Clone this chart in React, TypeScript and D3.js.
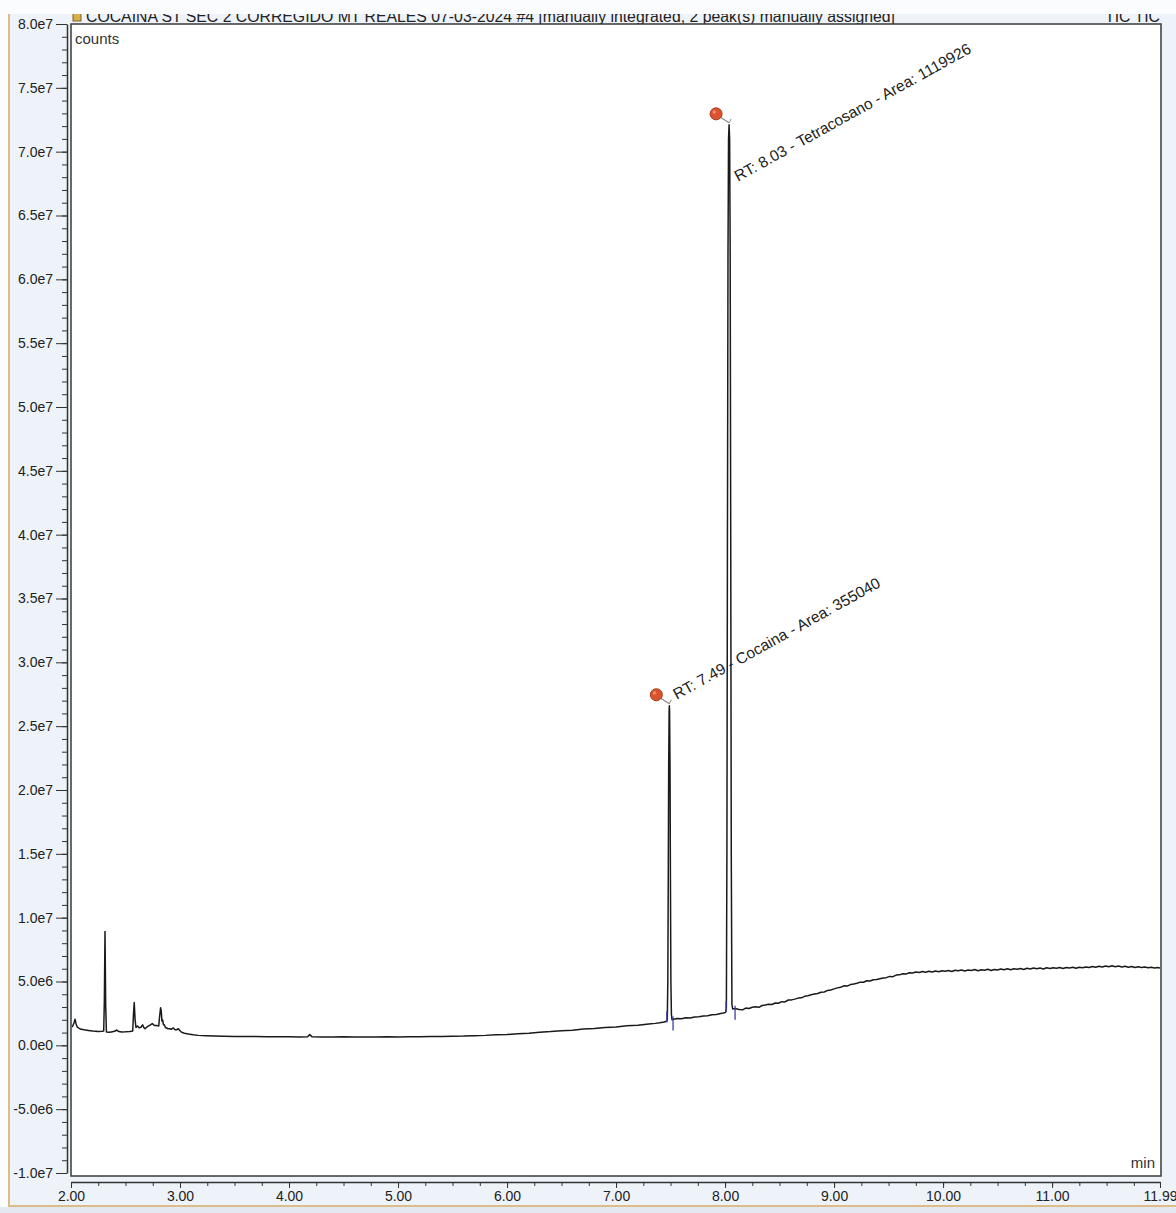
import React, { useEffect, useRef } from "react";
import * as d3 from "d3";

const titleText =
  "COCAINA ST SEC 2 CORREGIDO MT REALES 07-03-2024 #4 [manually integrated, 2 peak(s) manually assigned]";
const traceName = "TIC TIC";

const xTickValues = [2, 3, 4, 5, 6, 7, 8, 9, 10, 11, 11.99];
const xTickLabels = ["2.00", "3.00", "4.00", "5.00", "6.00", "7.00", "8.00", "9.00", "10.00", "11.00", "11.99"];

// counts in units of 1e6
const yTickValues = [80, 75, 70, 65, 60, 55, 50, 45, 40, 35, 30, 25, 20, 15, 10, 5, 0, -5, -10];
const yTickLabels = [
  "8.0e7", "7.5e7", "7.0e7", "6.5e7", "6.0e7", "5.5e7", "5.0e7", "4.5e7", "4.0e7", "3.5e7",
  "3.0e7", "2.5e7", "2.0e7", "1.5e7", "1.0e7", "5.0e6", "0.0e0", "-5.0e6", "-1.0e7",
];

// TIC trace, [retention time (min), counts (1e6)]
const earlyTrace = [
  [2.0, 1.4], [2.015, 1.5], [2.028, 1.77], [2.037, 2.05], [2.046, 1.7], [2.056, 1.45], [2.083, 1.28],
  [2.12, 1.22], [2.159, 1.17], [2.2, 1.12], [2.25, 1.09], [2.285, 1.1], [2.3, 1.12], [2.306, 3.5],
  [2.312, 8.92], [2.318, 3.2], [2.325, 1.05], [2.35, 1.02], [2.37, 1.05], [2.4, 1.1], [2.419, 1.2],
  [2.44, 1.08], [2.465, 1.05], [2.5, 1.06], [2.54, 1.08], [2.566, 1.12], [2.573, 2.4], [2.58, 3.36],
  [2.588, 2.0], [2.596, 1.4], [2.61, 1.52], [2.625, 1.38], [2.642, 1.42], [2.657, 1.6], [2.668, 1.4],
  [2.679, 1.3], [2.695, 1.42], [2.709, 1.5], [2.725, 1.58], [2.746, 1.7], [2.765, 1.55], [2.786, 1.55],
  [2.805, 1.52], [2.812, 2.2], [2.822, 2.95], [2.828, 2.7], [2.834, 1.9], [2.841, 1.98], [2.848, 1.62],
  [2.856, 1.62], [2.866, 1.4], [2.877, 1.36], [2.89, 1.3], [2.905, 1.3], [2.92, 1.26], [2.939, 1.36],
  [2.955, 1.22], [2.97, 1.22], [2.985, 1.3], [3.0, 1.15], [3.015, 1.02], [3.04, 0.95], [3.076, 0.88],
  [3.12, 0.82], [3.168, 0.78], [3.24, 0.76], [3.32, 0.74], [3.4, 0.72], [3.505, 0.7], [3.6, 0.7], [3.69, 0.69],
];

const baselineTrace = [
  [3.8, 0.68], [3.9, 0.67], [4.0, 0.68], [4.1, 0.66], [4.17, 0.67], [4.19, 0.84], [4.21, 0.68], [4.3, 0.66],
  [4.4, 0.65], [4.5, 0.67], [4.6, 0.65], [4.7, 0.66], [4.8, 0.65], [4.9, 0.67], [5.0, 0.66], [5.1, 0.68],
  [5.2, 0.67], [5.3, 0.69], [5.4, 0.7], [5.5, 0.72], [5.6, 0.73], [5.7, 0.76], [5.8, 0.78], [5.9, 0.82],
  [6.0, 0.85], [6.1, 0.91], [6.2, 0.95], [6.3, 1.03], [6.4, 1.08], [6.5, 1.15], [6.6, 1.19], [6.7, 1.27],
  [6.8, 1.31], [6.9, 1.39], [7.0, 1.44], [7.1, 1.53], [7.2, 1.57], [7.3, 1.67], [7.36, 1.72], [7.4, 1.77],
  [7.44, 1.83], [7.462, 1.88],
];

const cocainaTrace = [
  [7.47, 2.0], [7.475, 5.0], [7.479, 13.0], [7.483, 22.0], [7.487, 26.2], [7.489, 26.6], [7.491, 26.2],
  [7.495, 22.0], [7.499, 13.0], [7.503, 5.0], [7.508, 2.4], [7.514, 2.0], [7.53, 2.05], [7.56, 2.1],
  [7.6, 2.08], [7.64, 2.16], [7.68, 2.14], [7.72, 2.22], [7.76, 2.24], [7.8, 2.3], [7.84, 2.32], [7.88, 2.4],
  [7.92, 2.42], [7.96, 2.5], [7.985, 2.53], [8.005, 2.58],
];

const tetracosanoTrace = [
  [8.012, 2.9], [8.017, 15.0], [8.022, 40.0], [8.027, 62.0], [8.032, 71.0], [8.037, 72.1], [8.042, 71.0],
  [8.047, 62.0], [8.052, 40.0], [8.057, 15.0], [8.063, 3.2], [8.07, 2.85], [8.08, 2.86],
];

const lateTrace = [
  [8.1, 2.86], [8.13, 2.8], [8.16, 2.78], [8.19, 2.92], [8.22, 2.88], [8.25, 2.98], [8.28, 3.02], [8.31, 2.98],
  [8.34, 3.12], [8.37, 3.16], [8.4, 3.22], [8.43, 3.2], [8.46, 3.32], [8.49, 3.3], [8.52, 3.42], [8.55, 3.4],
  [8.58, 3.55], [8.61, 3.56], [8.64, 3.62], [8.67, 3.7], [8.7, 3.72], [8.73, 3.84], [8.76, 3.88], [8.79, 3.96],
  [8.82, 4.02], [8.85, 4.06], [8.88, 4.16], [8.91, 4.18], [8.94, 4.3], [8.97, 4.34], [9.0, 4.42], [9.03, 4.5],
  [9.06, 4.55], [9.09, 4.66], [9.12, 4.64], [9.15, 4.76], [9.18, 4.8], [9.21, 4.86], [9.24, 4.95], [9.27, 4.94],
  [9.3, 5.06], [9.33, 5.04], [9.36, 5.14], [9.39, 5.16], [9.42, 5.22], [9.45, 5.28], [9.48, 5.3], [9.51, 5.4],
  [9.54, 5.38], [9.57, 5.5], [9.6, 5.52], [9.63, 5.6], [9.66, 5.58], [9.69, 5.68], [9.72, 5.66], [9.75, 5.74],
  [9.78, 5.7], [9.81, 5.78], [9.84, 5.72], [9.87, 5.8], [9.9, 5.74], [9.93, 5.82], [9.96, 5.76], [9.99, 5.84],
  [10.02, 5.8], [10.05, 5.86], [10.08, 5.78], [10.11, 5.88], [10.14, 5.84], [10.17, 5.9], [10.2, 5.82],
  [10.23, 5.9], [10.26, 5.86], [10.29, 5.94], [10.32, 5.84], [10.35, 5.92], [10.38, 5.88], [10.41, 5.96],
  [10.44, 5.86], [10.47, 5.94], [10.5, 5.9], [10.53, 5.98], [10.56, 5.92], [10.59, 6.0], [10.62, 5.92],
  [10.65, 6.0], [10.68, 5.96], [10.71, 6.02], [10.74, 5.94], [10.77, 6.04], [10.8, 5.98], [10.83, 6.06],
  [10.86, 6.0], [10.89, 6.06], [10.92, 5.98], [10.95, 6.08], [10.98, 6.02], [11.01, 6.08], [11.04, 6.04],
  [11.07, 6.1], [11.1, 6.02], [11.13, 6.1], [11.16, 6.06], [11.19, 6.12], [11.22, 6.04], [11.25, 6.12],
  [11.28, 6.08], [11.31, 6.14], [11.34, 6.1], [11.37, 6.18], [11.4, 6.12], [11.43, 6.2], [11.46, 6.14],
  [11.49, 6.22], [11.52, 6.16], [11.55, 6.24], [11.58, 6.16], [11.61, 6.22], [11.64, 6.14], [11.67, 6.2],
  [11.7, 6.12], [11.73, 6.18], [11.76, 6.1], [11.79, 6.16], [11.82, 6.1], [11.85, 6.14], [11.88, 6.08],
  [11.91, 6.12], [11.94, 6.06], [11.97, 6.1], [11.99, 6.06],
];

// identified peaks
const peakNames = ["Cocaina", "Tetracosano"];
const peakRT = [7.49, 8.03];
const peakArea = [355040, 1119926];
const peakApexTime = [7.489, 8.037];
const peakApexCounts = [26.6, 72.1];
const peakStart = [7.466, 8.009];
const peakEnd = [7.523, 8.092];

const font = "'Liberation Sans', Arial, sans-serif";

const App = () => {
  const svgRef = useRef<SVGSVGElement>(null);

  useEffect(() => {
    const width = 1176;
    const height = 1213;
    const frame = { left: 71, top: 24, right: 1161, bottom: 1176 };
    const yAxisX = 67;
    const xAxisY = 1182;

    const trace = [...earlyTrace, ...baselineTrace, ...cocainaTrace, ...tetracosanoTrace, ...lateTrace];

    const x = d3.scaleLinear().domain([2, 11.99]).range([71, 1160]);
    const y = d3.scaleLinear().domain([-10, 80]).range([1173, 24]);

    const svg = d3.select(svgRef.current);
    svg.selectAll("*").remove();

    // window background
    svg.append("rect").attr("width", width).attr("height", height).attr("fill", "#eef2f9");
    svg.append("rect").attr("x", 0).attr("y", 1207).attr("width", width).attr("height", 6).attr("fill", "#e4e9f1");

    // title (cut at the top like the screenshot)
    svg.append("rect").attr("x", 73).attr("y", 13).attr("width", 8).attr("height", 8)
      .attr("fill", "#d8b04a").attr("stroke", "#7a6530").attr("stroke-width", 1);
    svg.append("text").attr("x", 86).attr("y", 22).attr("font-family", font).attr("font-size", 15.8)
      .attr("fill", "#222").text(titleText);
    svg.append("text").attr("x", 1160).attr("y", 22).attr("font-family", font).attr("font-size", 15.8)
      .attr("fill", "#222").attr("text-anchor", "end").text(traceName);
    svg.append("rect").attr("x", 0).attr("y", 0).attr("width", width).attr("height", 14).attr("fill", "#fbfcfe");
    svg.append("rect").attr("x", 0).attr("y", 0).attr("width", 8).attr("height", 1207).attr("fill", "#fbfcfe");

    // tan window border
    svg.append("line").attr("x1", 9).attr("x2", 9).attr("y1", 14).attr("y2", 1206)
      .attr("stroke", "#dcbd8a").attr("stroke-width", 2);
    svg.append("line").attr("x1", 8).attr("x2", width).attr("y1", 1206).attr("y2", 1206)
      .attr("stroke", "#dcbd8a").attr("stroke-width", 2);

    // plot frame
    svg.append("rect").attr("x", frame.left).attr("y", frame.top)
      .attr("width", frame.right - frame.left).attr("height", frame.bottom - frame.top)
      .attr("fill", "#fff").attr("stroke", "#3a3a3a").attr("stroke-width", 1.5);

    svg.append("defs").append("clipPath").attr("id", "plotClip").append("rect")
      .attr("x", frame.left + 1).attr("y", frame.top + 1)
      .attr("width", frame.right - frame.left - 2).attr("height", frame.bottom - frame.top - 2);

    svg.append("text").attr("x", 75).attr("y", 44).attr("font-family", font).attr("font-size", 15)
      .attr("fill", "#333").text("counts");
    svg.append("text").attr("x", 1155).attr("y", 1168).attr("font-family", font).attr("font-size", 15)
      .attr("fill", "#333").attr("text-anchor", "end").text("min");

    // y axis
    const yMinor = d3.range(-10, 80.5, 1);
    svg.append("g").attr("transform", `translate(${yAxisX},0)`)
      .call(d3.axisLeft(y).tickValues(yMinor).tickSize(5).tickSizeOuter(0).tickFormat(() => ""))
      .call((g) => g.selectAll("line").attr("stroke", "#333"))
      .call((g) => g.select(".domain").attr("stroke", "#333").attr("stroke-width", 1.5));
    svg.append("g").attr("transform", `translate(${yAxisX},0)`)
      .call(d3.axisLeft(y).tickValues(yTickValues).tickSize(11).tickSizeOuter(0).tickPadding(3)
        .tickFormat((d, i) => yTickLabels[i]))
      .call((g) => g.select(".domain").remove())
      .call((g) => g.selectAll("line").attr("stroke", "#333"))
      .call((g) => g.selectAll("text").attr("font-family", font).attr("font-size", 14).attr("fill", "#222"));

    // x axis
    const xMinor = [...d3.range(2, 11.9, 0.25), 11.99];
    svg.append("g").attr("transform", `translate(0,${xAxisY})`)
      .call(d3.axisBottom(x).tickValues(xMinor).tickSize(4).tickSizeOuter(0).tickFormat(() => ""))
      .call((g) => g.selectAll("line").attr("stroke", "#333"))
      .call((g) => g.select(".domain").attr("stroke", "#333").attr("stroke-width", 1.5));
    svg.append("g").attr("transform", `translate(0,${xAxisY})`)
      .call(d3.axisBottom(x).tickValues(xTickValues).tickSize(6).tickSizeOuter(0).tickPadding(3)
        .tickFormat((d, i) => xTickLabels[i]))
      .call((g) => g.select(".domain").remove())
      .call((g) => g.selectAll("line").attr("stroke", "#333"))
      .call((g) => g.selectAll("text").attr("font-family", font).attr("font-size", 14).attr("fill", "#222"));

    // trace
    const line = d3.line<number[]>().x((d) => x(d[0])).y((d) => y(d[1]));
    const plot = svg.append("g").attr("clip-path", "url(#plotClip)");
    plot.append("path").datum(trace).attr("d", line).attr("fill", "none")
      .attr("stroke", "#1a1a1a").attr("stroke-width", 1.5).attr("stroke-linejoin", "round");

    // integration markers
    const bisect = d3.bisector((d: number[]) => d[0]).left;
    const valueAt = (t: number) => {
      const i = Math.min(Math.max(bisect(trace, t), 1), trace.length - 1);
      const a = trace[i - 1];
      const b = trace[i];
      return a[1] + ((t - a[0]) / (b[0] - a[0])) * (b[1] - a[1]);
    };
    peakNames.forEach((name, i) => {
      const ys = y(valueAt(peakStart[i]));
      plot.append("line").attr("x1", x(peakStart[i])).attr("x2", x(peakStart[i]))
        .attr("y1", ys - 9).attr("y2", ys + 2).attr("stroke", "#3b3bb0").attr("stroke-width", 1.3);
      const ye = y(valueAt(peakEnd[i]));
      plot.append("line").attr("x1", x(peakEnd[i])).attr("x2", x(peakEnd[i]))
        .attr("y1", ye - 3).attr("y2", ye + 11).attr("stroke", "#3b3bb0").attr("stroke-width", 1.3);
    });

    // pins + labels
    const labelOffsets = [[7.5, -6], [9, 57]];
    peakNames.forEach((name, i) => {
      const ax = x(peakApexTime[i]);
      const ay = y(peakApexCounts[i]) - 2;
      const px = ax - 13;
      const py = ay - 9;
      svg.append("line").attr("x1", px + 2).attr("y1", py + 2).attr("x2", ax).attr("y2", ay)
        .attr("stroke", "#8a8a8a").attr("stroke-width", 1.2);
      svg.append("line").attr("x1", ax).attr("y1", ay).attr("x2", ax + 2).attr("y2", ay - 4)
        .attr("stroke", "#8a8a8a").attr("stroke-width", 1);
      svg.append("circle").attr("cx", px).attr("cy", py).attr("r", 6)
        .attr("fill", "#d9532f").attr("stroke", "#a83a1c").attr("stroke-width", 1);
      svg.append("circle").attr("cx", px - 1.8).attr("cy", py - 1.8).attr("r", 1.8).attr("fill", "#f08a60");

      const [dx, dy] = labelOffsets[i];
      svg.append("text")
        .attr("transform", `translate(${ax + dx},${ay + 2 + dy}) rotate(-29)`)
        .attr("font-family", font).attr("font-size", 15.5).attr("fill", "#222")
        .text(`RT: ${peakRT[i].toFixed(2)} - ${name} - Area: ${peakArea[i]}`);
    });
  }, []);

  return (
    <div style={{ position: "absolute", left: 0, top: 0 }}>
      <svg ref={svgRef} width={1176} height={1213} style={{ display: "block" }}></svg>
    </div>
  );
};

export default App;
